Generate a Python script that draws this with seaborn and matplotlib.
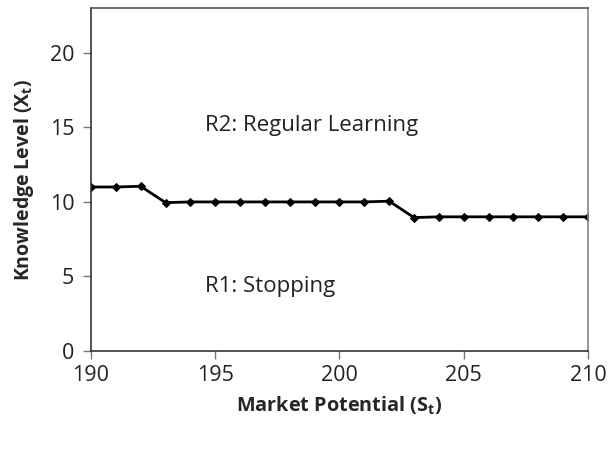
import matplotlib
matplotlib.use("Agg")
import matplotlib.pyplot as plt
import seaborn as sns
import pandas as pd

# Threshold knowledge level per market potential
market_potential = list(range(190, 211))
knowledge_level = [11.0, 11.0, 11.05,
                   9.95, 10.0, 10.0, 10.0, 10.0, 10.0, 10.0, 10.0, 10.0, 10.05,
                   8.95, 9.0, 9.0, 9.0, 9.0, 9.0, 9.0, 9.0]
region_labels = ["R2: Regular Learning", "R1: Stopping"]

sns.set_style("white")
plt.rcParams['font.family'] = ['Open Sans', 'DejaVu Sans']
plt.rcParams['mathtext.fontset'] = 'custom'
plt.rcParams['mathtext.rm'] = 'Open Sans'
plt.rcParams['mathtext.bf'] = 'Open Sans:bold'

df = pd.DataFrame({"S": market_potential, "X": knowledge_level})

fig = plt.figure(figsize=(6.15, 4.5), dpi=100)
ax = fig.add_axes([0.148, 0.22, 0.808, 0.762])

sns.lineplot(data=df, x="S", y="X", ax=ax, color="black", linewidth=2,
             marker="D", markersize=4.5, markeredgecolor="black")

ax.set_xlim(190, 210)
ax.set_ylim(0, 23)
ax.set_xticks([190, 195, 200, 205, 210])
ax.set_yticks([0, 5, 10, 15, 20])
ax.tick_params(axis="both", direction="out", length=6, width=1, labelsize=15.5,
               colors="#777777", labelcolor="#222222", pad=5)
ax.tick_params(axis="x", bottom=True, pad=4)
ax.tick_params(axis="y", left=True, pad=6)
for s in ax.spines.values():
    s.set_color("#333333")
    s.set_linewidth(1.2)
ax.spines["right"].set_color("#888888")
ax.spines["top"].set_color("#555555")

ax.set_xlabel(r"Market Potential (S$_\mathbf{t}$)", fontsize=14.3, fontweight="bold", labelpad=6)
ax.set_ylabel(r"Knowledge Level (X$_\mathbf{t}$)", fontsize=14, fontweight="bold", labelpad=10)

ax.text(194.6, 15.1, region_labels[0], fontsize=16, va="center", ha="left", color="#222222")
ax.text(194.6, 4.3, region_labels[1], fontsize=16, va="center", ha="left", color="#222222")

fig.savefig("out.png", dpi=100)
